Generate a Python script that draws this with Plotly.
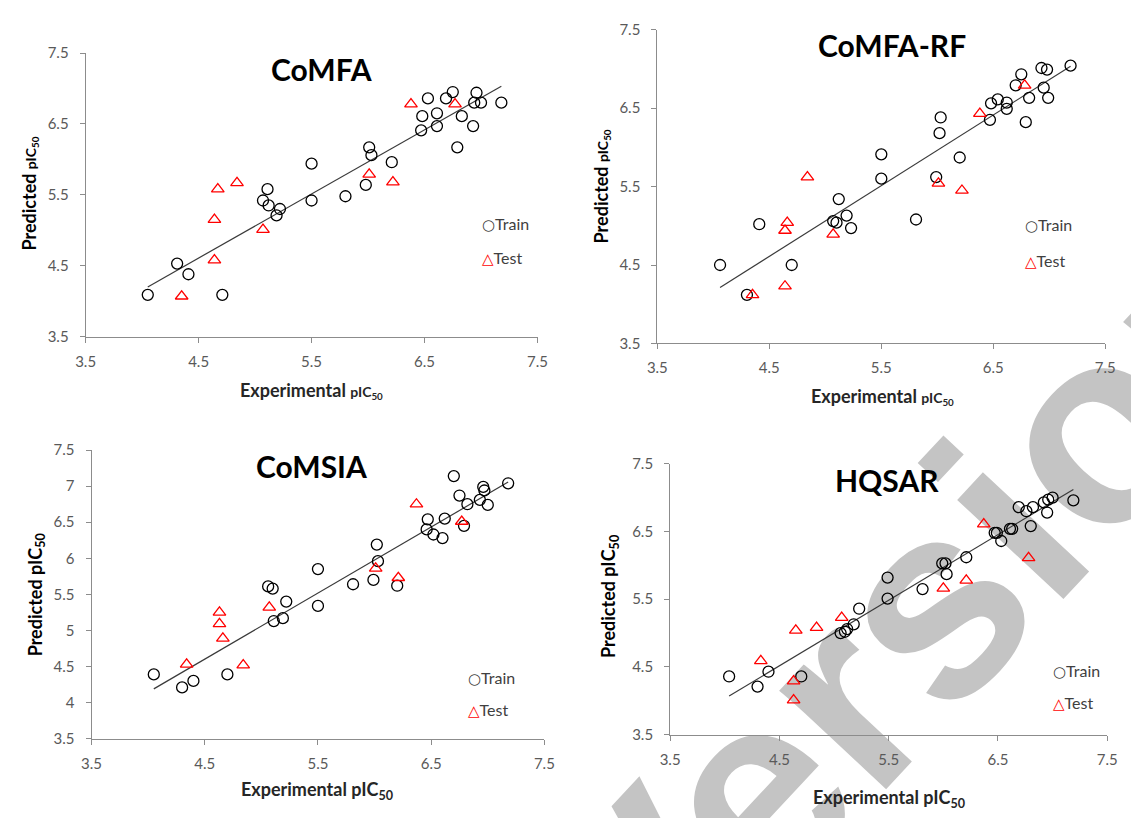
import numpy as np
import plotly.graph_objects as go

W, H = 1131, 818

# ---- CoMFA ----
comfa_train_exp = [4.05, 4.31, 4.41, 4.71, 5.07, 5.11, 5.12, 5.19, 5.22, 5.50, 5.50, 5.80, 5.98, 6.01, 6.03,
                   6.21, 6.47, 6.48, 6.53, 6.61, 6.61, 6.69, 6.75, 6.79, 6.83, 6.93, 6.96, 6.94, 7.00, 7.18]
comfa_train_pred = [4.09, 4.53, 4.38, 4.09, 5.42, 5.58, 5.35, 5.21, 5.30, 5.94, 5.42, 5.48, 5.64, 6.17, 6.06,
                    5.96, 6.41, 6.61, 6.86, 6.65, 6.47, 6.86, 6.95, 6.17, 6.61, 6.47, 6.94, 6.80, 6.80, 6.80]
comfa_test_exp = [4.35, 4.64, 4.64, 4.67, 4.84, 5.07, 6.01, 6.22, 6.38, 6.77]
comfa_test_pred = [4.07, 4.58, 5.15, 5.58, 5.67, 5.01, 5.79, 5.68, 6.78, 6.78]

# ---- CoMFA-RF ----
comfarf_train_exp = [4.06, 4.30, 4.41, 4.70, 5.07, 5.10, 5.12, 5.19, 5.23, 5.50, 5.50, 5.81, 5.99, 6.02, 6.03,
                     6.20, 6.47, 6.48, 6.54, 6.62, 6.62, 6.70, 6.75, 6.79, 6.82, 6.93, 6.98, 6.95, 6.99, 7.19]
comfarf_train_pred = [4.50, 4.12, 5.02, 4.50, 5.06, 5.04, 5.34, 5.13, 4.97, 5.91, 5.60, 5.08, 5.62, 6.18, 6.38,
                      5.87, 6.35, 6.56, 6.61, 6.57, 6.49, 6.79, 6.93, 6.32, 6.63, 7.01, 6.99, 6.76, 6.63, 7.04]
comfarf_test_exp = [4.35, 4.64, 4.64, 4.66, 4.84, 5.07, 6.01, 6.22, 6.38, 6.78]
comfarf_test_pred = [4.12, 4.23, 4.94, 5.04, 5.62, 4.89, 5.54, 5.45, 6.43, 6.79]

# ---- CoMSIA ----
comsia_train_exp = [4.05, 4.30, 4.40, 4.70, 5.06, 5.10, 5.11, 5.19, 5.22, 5.50, 5.50, 5.81, 5.99, 6.02, 6.03,
                    6.20, 6.46, 6.47, 6.52, 6.62, 6.60, 6.70, 6.75, 6.79, 6.82, 6.93, 6.96, 6.97, 7.00, 7.18]
comsia_train_pred = [4.39, 4.21, 4.30, 4.39, 5.61, 5.58, 5.13, 5.17, 5.40, 5.85, 5.34, 5.64, 5.70, 6.19, 5.96,
                     5.62, 6.40, 6.54, 6.33, 6.55, 6.28, 7.14, 6.87, 6.45, 6.75, 6.81, 6.99, 6.94, 6.74, 7.04]
comsia_test_exp = [4.34, 4.63, 4.63, 4.66, 4.84, 5.07, 6.01, 6.21, 6.37, 6.77]
comsia_test_pred = [4.53, 5.25, 5.09, 4.89, 4.52, 5.32, 5.86, 5.73, 6.75, 6.51]

# ---- HQSAR ----
hqsar_train_exp = [4.04, 4.30, 4.40, 4.70, 5.06, 5.10, 5.12, 5.18, 5.23, 5.49, 5.49, 5.81, 5.99, 6.02, 6.03,
                   6.21, 6.47, 6.49, 6.53, 6.61, 6.63, 6.69, 6.76, 6.80, 6.82, 6.92, 6.95, 6.96, 7.00, 7.19]
hqsar_train_pred = [4.36, 4.21, 4.43, 4.36, 5.00, 5.02, 5.06, 5.13, 5.36, 5.82, 5.51, 5.65, 6.03, 6.03, 5.87,
                    6.12, 6.48, 6.48, 6.36, 6.54, 6.54, 6.86, 6.80, 6.58, 6.86, 6.93, 6.78, 6.97, 7.00, 6.96]
hqsar_test_exp = [4.33, 4.63, 4.63, 4.65, 4.84, 5.07, 6.00, 6.21, 6.37, 6.78]
hqsar_test_pred = [4.59, 4.29, 4.01, 5.04, 5.08, 5.23, 5.66, 5.78, 6.61, 6.11]

titles = ["CoMFA", "CoMFA-RF", "CoMSIA", "HQSAR"]
legend_labels = ["Train", "Test"]
watermark = "Version"

FONT = "Lato, Carlito, Calibri, sans-serif"
TICK_COLOR = "#595959"
AXIS_COLOR = "#8c8c8c"

panels = [
    dict(title=titles[0], tx=comfa_train_exp, ty=comfa_train_pred, sx=comfa_test_exp, sy=comfa_test_pred,
         box=(77, 537, 44, 334), dtick=1.0, title_xy=(317, 60), ytitle_xy=(20, 188), xtitle_xy=(307, 389),
         leg=(478, 219, 254), small_unit=True),
    dict(title=titles[1], tx=comfarf_train_exp, ty=comfarf_train_pred, sx=comfarf_test_exp, sy=comfarf_test_pred,
         box=(659, 1115, 20, 341), dtick=1.0, title_xy=(898, 36), ytitle_xy=(602, 180), xtitle_xy=(888, 395),
         leg=(1031, 220, 257), small_unit=True),
    dict(title=titles[2], tx=comsia_train_exp, ty=comsia_train_pred, sx=comsia_test_exp, sy=comsia_test_pred,
         box=(83, 544, 450, 745), dtick=0.5, title_xy=(307, 466), ytitle_xy=(27, 598), xtitle_xy=(313, 798),
         leg=(464, 683, 716), small_unit=False),
    dict(title=titles[3], tx=hqsar_train_exp, ty=hqsar_train_pred, sx=hqsar_test_exp, sy=hqsar_test_pred,
         box=(672, 1117, 464, 741), dtick=1.0, title_xy=(893, 481), ytitle_xy=(611, 600), xtitle_xy=(895, 806),
         leg=(1060, 676, 709), small_unit=False),
]

fig = go.Figure()
annotations = []
layout_axes = {}

for i, p in enumerate(panels, start=1):
    xa = "x" if i == 1 else f"x{i}"
    ya = "y" if i == 1 else f"y{i}"
    x0, x1, y0, y1 = p["box"]

    # regression line through the training set
    slope, icpt = np.polyfit(p["tx"], p["ty"], 1)
    lx = np.array([min(p["tx"]), max(p["tx"])])
    fig.add_trace(go.Scatter(x=lx, y=slope * lx + icpt, mode="lines", xaxis=xa, yaxis=ya,
                             line=dict(color="#3a3a3a", width=1.2), showlegend=False, hoverinfo="skip"))
    fig.add_trace(go.Scatter(x=p["tx"], y=p["ty"], mode="markers", xaxis=xa, yaxis=ya, name=legend_labels[0],
                             marker=dict(symbol="circle-open", size=11, color="black", line=dict(width=1.3)),
                             showlegend=False))
    fig.add_trace(go.Scatter(x=p["sx"], y=p["sy"], mode="markers", xaxis=xa, yaxis=ya, name=legend_labels[1],
                             marker=dict(symbol="triangle-up-open", size=11, color="#ff0000", line=dict(width=1.3)),
                             showlegend=False))

    axis_common = dict(showgrid=False, zeroline=False, showline=True, linecolor=AXIS_COLOR, linewidth=1,
                       ticks="outside", ticklen=5, tickcolor=AXIS_COLOR, tickwidth=1,
                       tickfont=dict(family=FONT, size=15, color=TICK_COLOR), range=[3.5, 7.5])
    layout_axes["xaxis" if i == 1 else f"xaxis{i}"] = dict(
        axis_common, domain=[x0 / W, x1 / W], anchor=ya, tick0=3.5, dtick=1.0, ticklabelstandoff=6)
    layout_axes["yaxis" if i == 1 else f"yaxis{i}"] = dict(
        axis_common, domain=[1 - y1 / H, 1 - y0 / H], anchor=xa, tick0=3.5, dtick=p["dtick"],
        ticklabelstandoff=8)

    # panel title
    annotations.append(dict(text=p["title"], x=p["title_xy"][0] / W, y=1 - p["title_xy"][1] / H,
                            xref="paper", yref="paper", showarrow=False, xanchor="center", yanchor="middle",
                            font=dict(family=FONT, size=30, weight="bold", color="black")))
    unit_size = 14 if p["small_unit"] else 18
    unit = f"<span style='font-size:{unit_size}px'>pIC<sub>50</sub></span>"
    annotations.append(dict(text=f"<b>Predicted {unit}</b>", x=p["ytitle_xy"][0] / W, y=1 - p["ytitle_xy"][1] / H,
                            xref="paper", yref="paper", showarrow=False, textangle=-90,
                            xanchor="center", yanchor="middle",
                            font=dict(family=FONT, size=18, color="black")))
    annotations.append(dict(text=f"<b>Experimental {unit}</b>", x=p["xtitle_xy"][0] / W,
                            y=1 - p["xtitle_xy"][1] / H, xref="paper", yref="paper", showarrow=False,
                            xanchor="center", yanchor="middle",
                            font=dict(family=FONT, size=18, color="#262626")))
    # legend entries
    lx0, ly_train, ly_test = p["leg"]
    annotations.append(dict(text=f"<span style='font-family:DejaVu Sans;font-size:15px'>○</span>{legend_labels[0]}",
                            x=lx0 / W, y=1 - ly_train / H, xref="paper", yref="paper", showarrow=False,
                            xanchor="left", yanchor="middle",
                            font=dict(family=FONT, size=16, color="#404040")))
    annotations.append(dict(text=f"<span style='font-family:DejaVu Sans;font-size:15px;color:#ff0000'>△</span>{legend_labels[1]}",
                            x=lx0 / W, y=1 - ly_test / H, xref="paper", yref="paper", showarrow=False,
                            xanchor="left", yanchor="middle",
                            font=dict(family=FONT, size=16, color="#404040")))

# diagonal watermark, drawn beneath the data
shapes = [dict(type="rect", xref="paper", yref="paper", x0=570 / W, x1=1250 / W, y0=1 - 935 / H, y1=1 - 255 / H,
               line=dict(width=0), fillcolor="rgba(0,0,0,0)", layer="below",
               label=dict(text=watermark, textangle=-47, textposition="middle center",
                          font=dict(family="Liberation Sans", size=275, weight="bold", color="#c4c4c4")))]

fig.update_layout(
    width=W, height=H, margin=dict(l=0, r=0, t=0, b=0),
    paper_bgcolor="white", plot_bgcolor="rgba(0,0,0,0)",
    showlegend=False, annotations=annotations, shapes=shapes, **layout_axes)

fig.write_html("out.html")
